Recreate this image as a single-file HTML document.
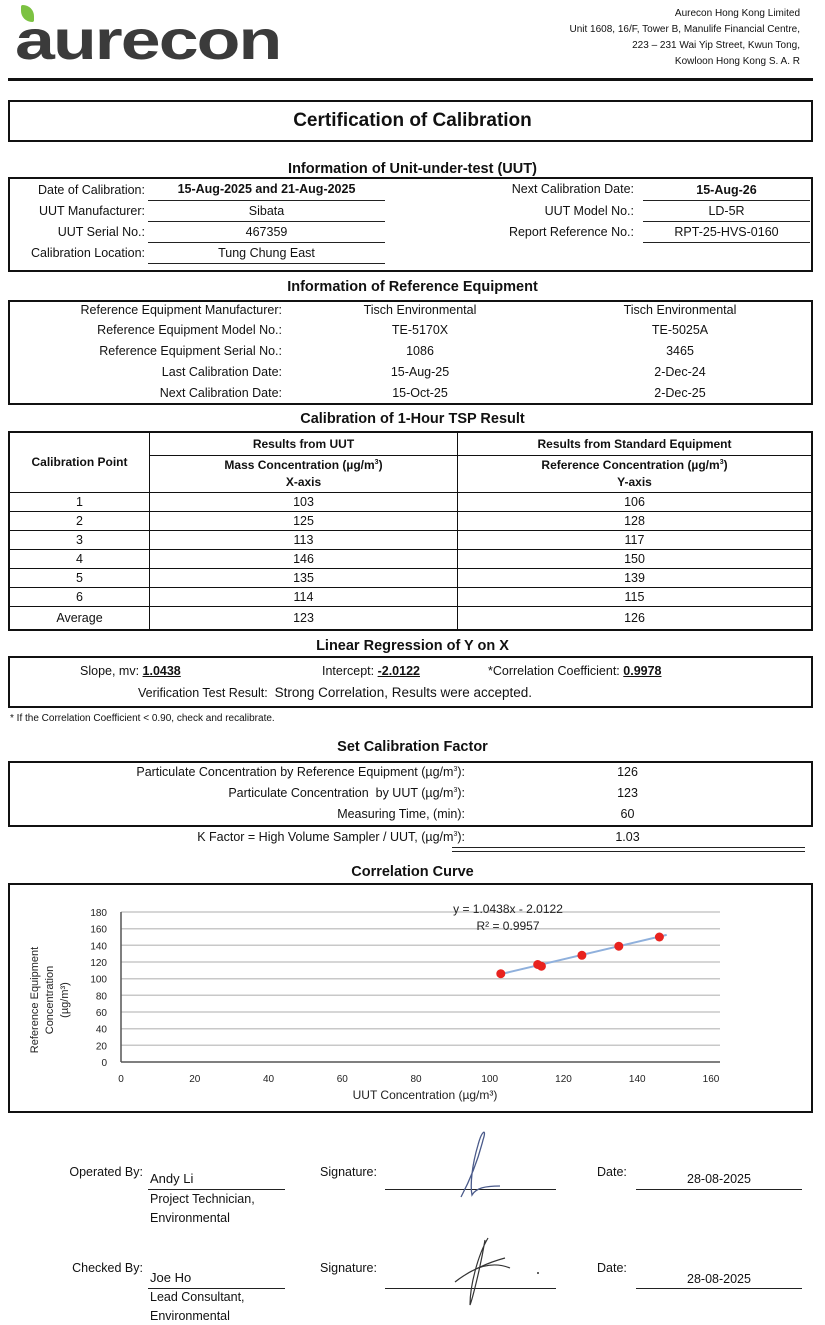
<!DOCTYPE html>
<html><head><meta charset="utf-8">
<style>
html,body{margin:0;padding:0;background:#fff;}
body{width:825px;height:1325px;position:relative;overflow:hidden;font-family:"Liberation Sans Narrow","Liberation Sans",sans-serif;color:#111;font-size:12.5px;}
.a{position:absolute;line-height:16px;white-space:nowrap;}
.r{text-align:right;}
.c{text-align:center;}
.b{font-weight:bold;}
.box{position:absolute;border:2px solid #111;box-sizing:border-box;}
.h{position:absolute;left:0;width:825px;text-align:center;font-weight:bold;font-size:14.5px;line-height:18px;}
.ul{position:absolute;height:0;border-top:1.5px solid #222;}
sup{font-size:7px;line-height:0;}
table{border-collapse:collapse;}
</style></head><body>

<!-- header -->
<div class="a" style="left:15px;top:12px;font-family:'Liberation Sans',sans-serif;font-weight:bold;font-size:56px;line-height:56px;color:#3b3b3b;letter-spacing:-1.5px;transform:scaleX(1.28);transform-origin:0 0;">aurecon</div>
<div class="a" style="left:21px;top:5px;width:13px;height:17px;background:#7cc242;border-radius:2px 12px 2px 12px;"></div>
<div class="a r" style="right:25px;top:6px;font-size:10px;line-height:16px;">Aurecon Hong Kong Limited<br>Unit 1608, 16/F, Tower B, Manulife Financial Centre,<br>223 – 231 Wai Yip Street, Kwun Tong,<br>Kowloon Hong Kong S. A. R</div>
<div style="position:absolute;left:8px;top:78px;width:805px;height:3px;background:#111;"></div>

<div class="box" style="left:8px;top:100px;width:805px;height:42px;"></div>
<div class="h" style="top:110px;font-size:19px;line-height:22px;">Certification of Calibration</div>

<!-- UUT -->
<div class="h" style="top:160px;">Information of Unit-under-test (UUT)</div>
<div class="box" style="left:8px;top:177px;width:805px;height:95px;"></div>
<div class="a r" style="left:0;width:145px;top:182px;">Date of Calibration:</div>
<div class="a r" style="left:0;width:145px;top:203px;">UUT Manufacturer:</div>
<div class="a r" style="left:0;width:145px;top:224px;">UUT Serial No.:</div>
<div class="a r" style="left:0;width:145px;top:245px;">Calibration Location:</div>
<div class="a c b" style="left:148px;width:237px;top:181px;">15-Aug-2025 and 21-Aug-2025</div>
<div class="a c" style="left:148px;width:237px;top:203px;">Sibata</div>
<div class="a c" style="left:148px;width:237px;top:224px;">467359</div>
<div class="a c" style="left:148px;width:237px;top:245px;">Tung Chung East</div>
<div class="ul" style="left:148px;width:237px;top:200px;"></div>
<div class="ul" style="left:148px;width:237px;top:221px;"></div>
<div class="ul" style="left:148px;width:237px;top:242px;"></div>
<div class="ul" style="left:148px;width:237px;top:263px;"></div>
<div class="a r" style="left:400px;width:234px;top:181px;">Next Calibration Date:</div>
<div class="a r" style="left:400px;width:234px;top:203px;">UUT Model No.:</div>
<div class="a r" style="left:400px;width:234px;top:224px;">Report Reference No.:</div>
<div class="a c b" style="left:643px;width:167px;top:182px;">15-Aug-26</div>
<div class="a c" style="left:643px;width:167px;top:203px;">LD-5R</div>
<div class="a c" style="left:643px;width:167px;top:224px;">RPT-25-HVS-0160</div>
<div class="ul" style="left:643px;width:167px;top:200px;"></div>
<div class="ul" style="left:643px;width:167px;top:221px;"></div>
<div class="ul" style="left:643px;width:167px;top:242px;"></div>

<!-- Reference -->
<div class="h" style="top:278px;">Information of Reference Equipment</div>
<div class="box" style="left:8px;top:300px;width:805px;height:105px;"></div>
<div class="a r" style="left:0;width:282px;top:302px;">Reference Equipment Manufacturer:</div>
<div class="a r" style="left:0;width:282px;top:322px;">Reference Equipment Model No.:</div>
<div class="a r" style="left:0;width:282px;top:343px;">Reference Equipment Serial No.:</div>
<div class="a r" style="left:0;width:282px;top:364px;">Last Calibration Date:</div>
<div class="a r" style="left:0;width:282px;top:385px;">Next Calibration Date:</div>
<div class="a c" style="left:320px;width:200px;top:302px;">Tisch Environmental</div>
<div class="a c" style="left:320px;width:200px;top:322px;">TE-5170X</div>
<div class="a c" style="left:320px;width:200px;top:343px;">1086</div>
<div class="a c" style="left:320px;width:200px;top:364px;">15-Aug-25</div>
<div class="a c" style="left:320px;width:200px;top:385px;">15-Oct-25</div>
<div class="a c" style="left:580px;width:200px;top:302px;">Tisch Environmental</div>
<div class="a c" style="left:580px;width:200px;top:322px;">TE-5025A</div>
<div class="a c" style="left:580px;width:200px;top:343px;">3465</div>
<div class="a c" style="left:580px;width:200px;top:364px;">2-Dec-24</div>
<div class="a c" style="left:580px;width:200px;top:385px;">2-Dec-25</div>

<!-- TSP table -->
<div class="h" style="top:410px;">Calibration of 1-Hour TSP Result</div>
<table style="position:absolute;left:8px;top:431px;width:805px;border:2px solid #111;font-size:12.5px;">
<tr style="height:23px;"><td rowspan="2" class="b" style="width:137px;text-align:center;border:1px solid #111;font-size:12px;">Calibration Point</td>
<td class="b" style="text-align:center;border:1px solid #111;width:305px;font-size:12px;">Results from UUT</td>
<td class="b" style="text-align:center;border:1px solid #111;font-size:12px;">Results from Standard Equipment</td></tr>
<tr style="height:36px;"><td class="b" style="text-align:center;border:1px solid #111;line-height:17px;font-size:12px;">Mass Concentration (µg/m<sup>3</sup>)<br>X-axis</td>
<td class="b" style="text-align:center;border:1px solid #111;line-height:17px;font-size:12px;">Reference Concentration (µg/m<sup>3</sup>)<br>Y-axis</td></tr>
<tr style="height:19px;"><td class="c" style="border:1px solid #111;">1</td><td class="c" style="border:1px solid #111;">103</td><td class="c" style="border:1px solid #111;">106</td></tr>
<tr style="height:19px;"><td class="c" style="border:1px solid #111;">2</td><td class="c" style="border:1px solid #111;">125</td><td class="c" style="border:1px solid #111;">128</td></tr>
<tr style="height:19px;"><td class="c" style="border:1px solid #111;">3</td><td class="c" style="border:1px solid #111;">113</td><td class="c" style="border:1px solid #111;">117</td></tr>
<tr style="height:19px;"><td class="c" style="border:1px solid #111;">4</td><td class="c" style="border:1px solid #111;">146</td><td class="c" style="border:1px solid #111;">150</td></tr>
<tr style="height:19px;"><td class="c" style="border:1px solid #111;">5</td><td class="c" style="border:1px solid #111;">135</td><td class="c" style="border:1px solid #111;">139</td></tr>
<tr style="height:19px;"><td class="c" style="border:1px solid #111;">6</td><td class="c" style="border:1px solid #111;">114</td><td class="c" style="border:1px solid #111;">115</td></tr>
<tr style="height:24px;"><td class="c" style="border:1px solid #111;">Average</td><td class="c" style="border:1px solid #111;">123</td><td class="c" style="border:1px solid #111;">126</td></tr>
</table>

<!-- Linear regression -->
<div class="h" style="top:637px;">Linear Regression of Y on X</div>
<div class="box" style="left:8px;top:656px;width:805px;height:52px;"></div>
<div class="a" style="left:80px;top:663px;">Slope, mv: <b style="text-decoration:underline;">1.0438</b></div>
<div class="a" style="left:322px;top:663px;">Intercept: <b style="text-decoration:underline;">-2.0122</b></div>
<div class="a" style="left:488px;top:663px;">*Correlation Coefficient: <b style="text-decoration:underline;">0.9978</b></div>
<div class="a" style="left:138px;top:685px;">Verification Test Result: &nbsp;<span style="font-size:13.5px;">Strong Correlation, Results were accepted.</span></div>
<div class="a" style="left:10px;top:711px;font-size:10px;">* If the Correlation Coefficient &lt; 0.90, check and recalibrate.</div>

<!-- Calibration factor -->
<div class="h" style="top:738px;">Set Calibration Factor</div>
<div class="box" style="left:8px;top:761px;width:805px;height:66px;"></div>
<div class="a r" style="left:0;width:465px;top:764px;">Particulate Concentration by Reference Equipment (µg/m<sup>3</sup>):</div>
<div class="a r" style="left:0;width:465px;top:785px;">Particulate Concentration &nbsp;by UUT (µg/m<sup>3</sup>):</div>
<div class="a r" style="left:0;width:465px;top:806px;">Measuring Time, (min):</div>
<div class="a r" style="left:0;width:465px;top:829px;">K Factor = High Volume Sampler / UUT, (µg/m<sup>3</sup>):</div>
<div class="a c" style="left:580px;width:95px;top:764px;">126</div>
<div class="a c" style="left:580px;width:95px;top:785px;">123</div>
<div class="a c" style="left:580px;width:95px;top:806px;">60</div>
<div class="a c" style="left:580px;width:95px;top:829px;">1.03</div>
<div style="position:absolute;left:452px;top:847px;width:353px;height:3px;border-top:1px solid #222;border-bottom:1px solid #222;"></div>

<!-- Chart -->
<div class="h" style="top:863px;">Correlation Curve</div>
<div class="box" style="left:8px;top:883px;width:805px;height:230px;"></div>
<svg style="position:absolute;left:0;top:0;" width="825" height="1325" font-family="Liberation Sans Narrow, Liberation Sans, sans-serif">
<g stroke="#c8c8c8" stroke-width="1.5">
<line x1="121" y1="912" x2="720" y2="912"/><line x1="121" y1="928.7" x2="720" y2="928.7"/>
<line x1="121" y1="945.3" x2="720" y2="945.3"/><line x1="121" y1="962" x2="720" y2="962"/>
<line x1="121" y1="978.7" x2="720" y2="978.7"/><line x1="121" y1="995.3" x2="720" y2="995.3"/>
<line x1="121" y1="1012" x2="720" y2="1012"/><line x1="121" y1="1028.7" x2="720" y2="1028.7"/>
<line x1="121" y1="1045.3" x2="720" y2="1045.3"/>
</g>
<line x1="121" y1="1062" x2="720" y2="1062" stroke="#555" stroke-width="1.5"/>
<line x1="121" y1="912" x2="121" y2="1062" stroke="#555" stroke-width="1.5"/>
<g font-size="10" fill="#222" text-anchor="end">
<text x="107" y="916">180</text><text x="107" y="932.7">160</text><text x="107" y="949.3">140</text>
<text x="107" y="966">120</text><text x="107" y="982.7">100</text><text x="107" y="999.3">80</text>
<text x="107" y="1016">60</text><text x="107" y="1032.7">40</text><text x="107" y="1049.3">20</text>
<text x="107" y="1066">0</text>
</g>
<g font-size="10" fill="#222" text-anchor="middle">
<text x="121" y="1082">0</text><text x="194.75" y="1082">20</text><text x="268.5" y="1082">40</text>
<text x="342.25" y="1082">60</text><text x="416" y="1082">80</text><text x="489.75" y="1082">100</text>
<text x="563.5" y="1082">120</text><text x="637.25" y="1082">140</text><text x="711" y="1082">160</text>
</g>
<text x="425" y="1099" font-size="12" text-anchor="middle" fill="#222">UUT Concentration (µg/m³)</text>
<g font-size="11" fill="#222" text-anchor="middle" transform="translate(50,1000) rotate(-90)">
<text x="0" y="-12" font-family="Liberation Sans, sans-serif">Reference Equipment</text>
<text x="0" y="3" font-family="Liberation Sans, sans-serif">Concentration</text>
<text x="0" y="18">(µg/m³)</text>
</g>
<text x="508" y="913" font-size="12" text-anchor="middle" fill="#222">y = 1.0438x - 2.0122</text>
<text x="508" y="930" font-size="12" text-anchor="middle" fill="#222">R² = 0.9957</text>
<line x1="500.8" y1="974.1" x2="666.7" y2="934.9" stroke="#8fb0dc" stroke-width="2"/>
<g fill="#e8231f">
<circle cx="500.8" cy="973.7" r="4.5"/><circle cx="581.9" cy="955.3" r="4.5"/>
<circle cx="537.7" cy="964.5" r="4.5"/><circle cx="659.4" cy="937" r="4.5"/>
<circle cx="618.8" cy="946.2" r="4.5"/><circle cx="541.4" cy="966.2" r="4.5"/>
</g>
</svg>

<!-- Signatures -->
<div class="a r" style="left:0;width:143px;top:1164px;">Operated By:</div>
<div class="a" style="left:150px;top:1171px;font-size:13px;">Andy Li</div>
<div class="ul" style="left:148px;width:137px;top:1189px;"></div>
<div class="a" style="left:150px;top:1191px;">Project Technician,</div>
<div class="a" style="left:150px;top:1210px;">Environmental</div>
<div class="a" style="left:320px;top:1164px;">Signature:</div>
<div class="ul" style="left:385px;width:171px;top:1189px;"></div>
<div class="a" style="left:597px;top:1164px;">Date:</div>
<div class="a c" style="left:636px;width:166px;top:1171px;">28-08-2025</div>
<div class="ul" style="left:636px;width:166px;top:1189px;"></div>

<div class="a r" style="left:0;width:143px;top:1260px;">Checked By:</div>
<div class="a" style="left:150px;top:1270px;font-size:13px;">Joe Ho</div>
<div class="ul" style="left:148px;width:137px;top:1288px;"></div>
<div class="a" style="left:150px;top:1289px;">Lead Consultant,</div>
<div class="a" style="left:150px;top:1308px;">Environmental</div>
<div class="a" style="left:320px;top:1260px;">Signature:</div>
<div class="ul" style="left:385px;width:171px;top:1288px;"></div>
<div class="a" style="left:597px;top:1260px;">Date:</div>
<div class="a c" style="left:636px;width:166px;top:1271px;">28-08-2025</div>
<div class="ul" style="left:636px;width:166px;top:1288px;"></div>

<svg style="position:absolute;left:0;top:0;" width="825" height="1325">
<path d="M461,1197 C470,1180 478,1160 483,1140 C487,1128 482,1130 478,1145 C472,1165 470,1185 472,1195 C476,1188 485,1186 500,1186" fill="none" stroke="#4a5a8a" stroke-width="1.3"/>
<path d="M455,1282 C470,1270 490,1262 505,1258 M488,1238 C478,1255 470,1285 470,1305 C472,1300 480,1270 485,1240 M465,1275 C480,1265 495,1262 510,1268" fill="none" stroke="#333" stroke-width="1.2"/>
<circle cx="538" cy="1273" r="1" fill="#333"/>
</svg>
</body></html>
